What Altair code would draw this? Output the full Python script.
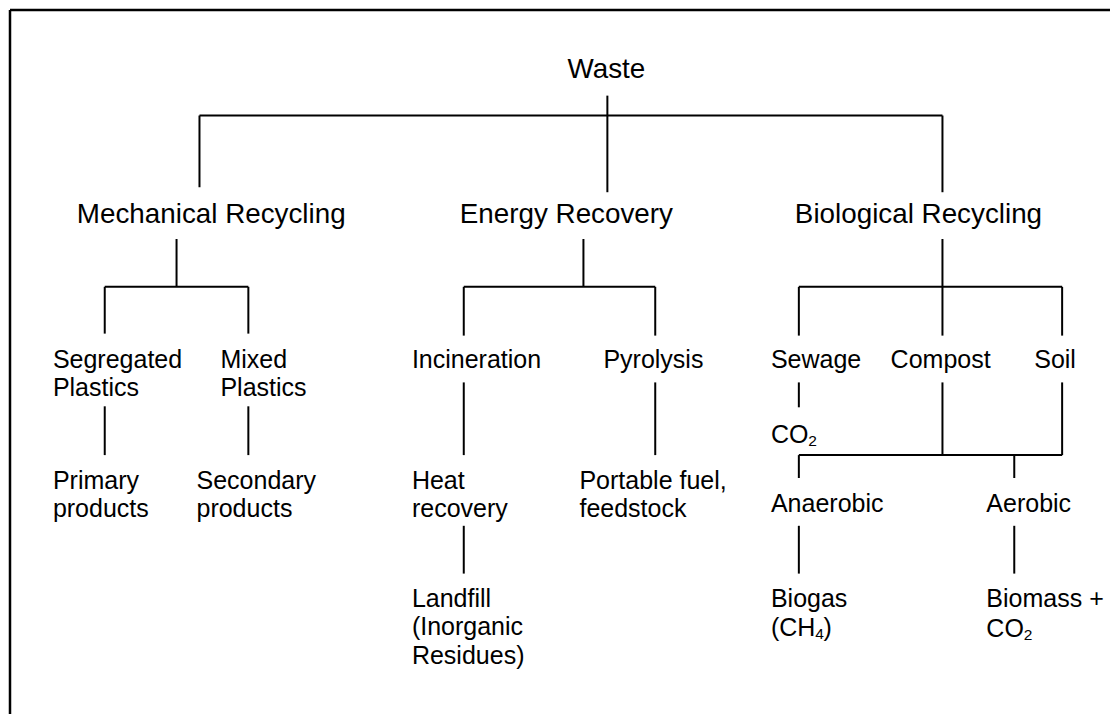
import altair as alt
import pandas as pd

# ---------------- text content ----------------
LABELS = [
    "Waste",
    "Mechanical Recycling", "Energy Recovery", "Biological Recycling",
    "Segregated", "Plastics", "Mixed", "Plastics",
    "Incineration", "Pyrolysis",
    "Sewage", "Compost", "Soil",
    "CO",
    "Primary", "products", "Secondary", "products",
    "Heat", "recovery", "Portable fuel,", "feedstock",
    "Anaerobic", "Aerobic",
    "Landfill", "(Inorganic", "Residues)",
    "Biogas", "(CH", ")",
    "Biomass +", "CO",
]
# layout (left edge, baseline, font size)
LABEL_X = [568,
           76, 460, 796,
           52, 52, 220, 220,
           412, 604,
           772, 892, 1036,
           772,
           52, 52, 196, 196,
           412, 412, 580, 580,
           772, 988,
           412, 412, 412,
           772, 772, 824.7,
           988, 988]
LABEL_Y = [77,
           223, 223, 223,
           369, 397, 369, 397,
           369, 369,
           369, 369, 369,
           444,
           490, 518, 490, 518,
           490, 518, 490, 518,
           513, 513,
           609, 637, 666,
           609, 638, 638,
           609, 639]
LABEL_SIZE = [27.8, 27.8, 27.8, 27.8] + [25] * (len(LABELS) - 4)

# subscripts
SUBS = ["2", "4", "2"]
SUB_X = [809.5, 816.4, 1025.5]
SUB_Y = [447, 641, 642]
SUB_SIZE = [15.5, 15.5, 15.5]

# ---------------- connectors (tree layout) ----------------
segs = []


def bracket(stem_x, stem_y0, bus_y, child_xs, child_y1):
    segs.append((stem_x, stem_y0, stem_x, bus_y))
    xs = list(child_xs) + [stem_x]
    segs.append((min(xs), bus_y, max(xs), bus_y))
    for cx, cy in zip(child_xs, child_y1):
        segs.append((cx, bus_y, cx, cy))


# Waste -> three routes
bracket(608, 95, 115, [199, 608, 944], [187, 192, 192])
# Mechanical / Energy / Biological
bracket(176, 239, 287, [104, 248], [334, 334])
bracket(584, 239, 287, [464, 656], [336, 336])
bracket(944, 239, 287, [800, 944, 1064], [336, 336, 336])
# single links
for x0, y0, y1 in [(104, 407, 456), (248, 407, 456), (464, 383, 456),
                   (656, 383, 456), (800, 383, 408),
                   (464, 527, 575), (800, 527, 575), (1016, 527, 575)]:
    segs.append((x0, y0, x0, y1))
# Compost + Soil -> Anaerobic / Aerobic
for x0 in (944, 1064):
    segs.append((x0, 383, x0, 456))
segs.append((800, 456, 1064, 456))
for x0 in (800, 1016):
    segs.append((x0, 456, x0, 479))

seg_df = pd.DataFrame(segs, columns=["x", "y", "x2", "y2"])
border_df = pd.DataFrame([(9, 9, 1112, 9), (9, 9, 9, 716)],
                         columns=["x", "y", "x2", "y2"])

text_df = pd.DataFrame({"t": LABELS, "x": LABEL_X, "y": LABEL_Y, "s": LABEL_SIZE})
sub_df = pd.DataFrame({"t": SUBS, "x": SUB_X, "y": SUB_Y, "s": SUB_SIZE})

xs = alt.Scale(domain=[8, 1112], zero=False, nice=False)
ys = alt.Scale(domain=[8, 716], zero=False, nice=False, reverse=True)

FONT = "Liberation Sans"


def rules(df, w):
    return alt.Chart(df).mark_rule(color="black", strokeWidth=w).encode(
        x=alt.X("x:Q", scale=xs, axis=None),
        y=alt.Y("y:Q", scale=ys, axis=None),
        x2="x2:Q", y2="y2:Q")


def texts(df):
    return alt.Chart(df).mark_text(align="left", baseline="alphabetic",
                                   font=FONT, color="black").encode(
        x=alt.X("x:Q", scale=xs, axis=None),
        y=alt.Y("y:Q", scale=ys, axis=None),
        text="t:N",
        size=alt.Size("s:Q", scale=None, legend=None))


chart = alt.layer(
    rules(border_df, 2.5),
    rules(seg_df, 2),
    texts(text_df),
    texts(sub_df),
).properties(
    width=1104, height=708,
    autosize=alt.AutoSizeParams(type="fit", contains="padding"),
    padding=0,
).configure_view(stroke=None)

chart.save("out.html", embed_options={"renderer": "svg", "actions": False})
